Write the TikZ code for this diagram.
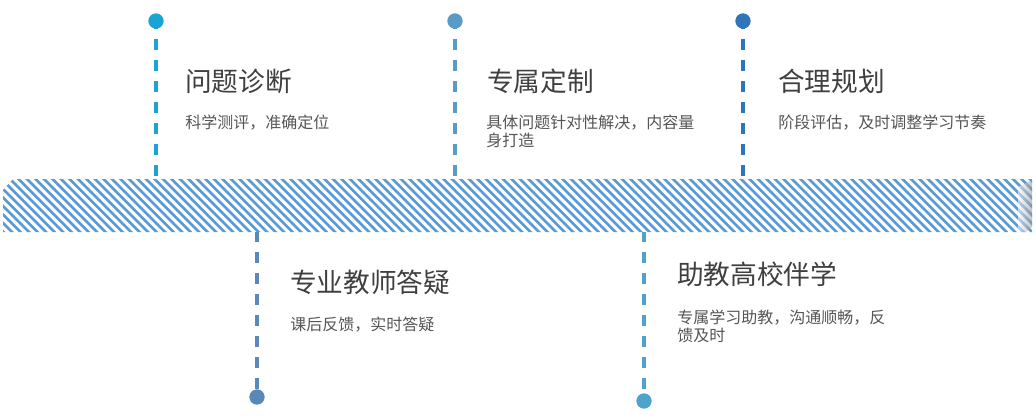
\documentclass[tikz,border=0pt]{standalone}
\usepackage{fontspec}
\setmainfont{Noto Sans CJK SC}
\definecolor{titlec}{HTML}{3F3F3F}
\definecolor{subc}{HTML}{555555}
\definecolor{stripe}{HTML}{5B9BD5}
\definecolor{cA}{HTML}{1AA4D3}
\definecolor{cB}{HTML}{5A9AC6}
\definecolor{cC}{HTML}{2F75BA}
\definecolor{cD}{HTML}{5B88BB}
\definecolor{cE}{HTML}{4EA2CB}
\begin{document}
\begin{tikzpicture}[x=0.75pt,y=-0.75pt,
  dotnode/.style={circle, inner sep=0pt, minimum size=11.5pt},
  conn/.style={line width=2.6pt, dash pattern=on 8.25pt off 7.5pt},
  titlenode/.style={anchor=base west, inner sep=0pt, font=\fontsize{20}{24}\selectfont, text=titlec},
  subnode/.style={anchor=base west, inner sep=0pt, align=left, font=\fontsize{12}{13.5}\selectfont, text=subc}]
\useasboundingbox (0,0) rectangle (1036,418);

% dots
\node[dotnode, fill=cA] (d1) at (156,21) {};
\node[dotnode, fill=cB] (d2) at (455,21) {};
\node[dotnode, fill=cC] (d3) at (743,21) {};
\node[dotnode, fill=cD] (d4) at (257,397) {};
\node[dotnode, fill=cE] (d5) at (644,401) {};

% band attach points
\coordinate (b1) at (156,180);
\coordinate (b2) at (455,180);
\coordinate (b3) at (743,180);
\coordinate (b4) at (257,231);
\coordinate (b5) at (644,231);

% connectors
\draw[conn, cA, dash phase=2.25pt] (d1.center) -- (b1);
\draw[conn, cB, dash phase=2.25pt] (d2.center) -- (b2);
\draw[conn, cC, dash phase=2.25pt] (d3.center) -- (b3);
\draw[conn, cD] (b4) -- (d4.center);
\draw[conn, cE] (b5) -- (d5.center);

% striped band
\begin{scope}
  \clip (3,190) -- (13,179) -- (1032,179) -- (1032,232) -- (3,232) -- cycle;
  \fill[white] (0,179) rectangle (1036,232);
  \foreach \x in {-60,-51.5,...,1040} {
    \draw[stripe, line width=2pt] (\x,177) -- (\x+57,234);
  }
  \shade[left color=white, right color=black!45, opacity=0.55]
    (1018,187) -- (1032,180) -- (1032,227) -- (1026,232) -- (1018,232) -- cycle;
\end{scope}

% texts
\node[titlenode] (t1) at (185,91) {问题诊断};
\node[subnode] (s1) at (185,128) {科学测评，准确定位};
\node[titlenode] (t2) at (487,91) {专属定制};
\node[subnode] (s2) at (486,146) {具体问题针对性解决，内容量\\身打造};
\node[titlenode] (t3) at (778,91) {合理规划};
\node[subnode] (s3) at (778,128) {阶段评估，及时调整学习节奏};
\node[titlenode] (t4) at (290,292) {专业教师答疑};
\node[subnode] (s4) at (290,330) {课后反馈，实时答疑};
\node[titlenode] (t5) at (677,284) {助教高校伴学};
\node[subnode] (s5) at (677,341) {专属学习助教，沟通顺畅，反\\馈及时};
\end{tikzpicture}
\end{document}
